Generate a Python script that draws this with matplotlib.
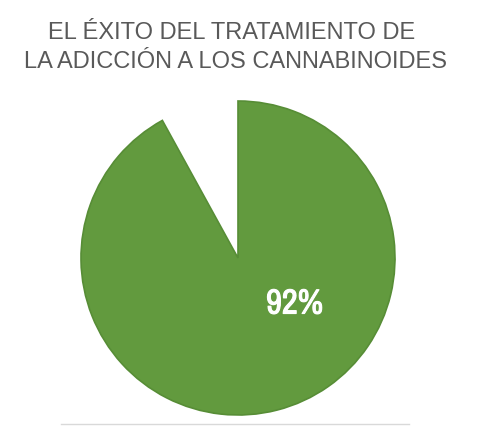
import matplotlib.pyplot as plt
import matplotlib.patheffects as pe

# Data
title_lines = ['EL ÉXITO DEL TRATAMIENTO DE', 'LA ADICCIÓN A LOS CANNABINOIDES']
slice_values = [92, 8]
slice_colors = ['#629a3e', 'none']
label_text = '92%'

fig = plt.figure(figsize=(4.91, 4.31), dpi=100)

# pie centred at (238, 259) px, radius 157 px
ax = fig.add_axes([81 / 491, 15 / 431, 314 / 491, 314 / 431])
wedges, _ = ax.pie(slice_values, colors=slice_colors, startangle=90,
                   counterclock=False, radius=1.0,
                   wedgeprops=dict(edgecolor='none'))
wedges[0].set_edgecolor('#578d36')
wedges[0].set_linewidth(1.2)
ax.set_xlim(-1, 1)
ax.set_ylim(-1, 1)
ax.set_aspect('equal')
ax.axis('off')

ax.text(0.36, -0.29, label_text, color='white', fontsize=25,
        family=['Archivo Narrow', 'DejaVu Sans'],
        ha='center', va='center',
        path_effects=[pe.withStroke(linewidth=0.8, foreground='white')])

fig.text(231.5 / 491, 1 - 33 / 431, title_lines[0], ha='center', va='center',
         fontsize=17, color='#595959', family='Liberation Sans')
fig.text(235.5 / 491, 1 - 62 / 431, title_lines[1], ha='center', va='center',
         fontsize=17, color='#595959', family='Liberation Sans')

# bottom rule
fig.add_artist(plt.Line2D([61 / 491, 409 / 491], [1 - 425 / 431, 1 - 425 / 431],
                          color='#d9d9d9', linewidth=1))

fig.savefig('out.png', dpi=100)
